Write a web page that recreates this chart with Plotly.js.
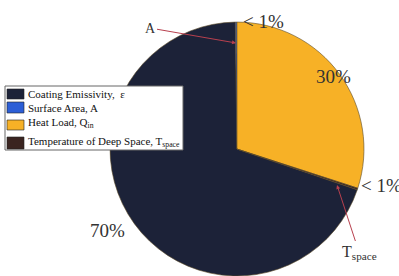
<!DOCTYPE html>
<html><head><meta charset="utf-8">
<script src="https://cdn.plot.ly/plotly-3.0.1.min.js"></script>
<style>html,body{margin:0;padding:0;background:#fff}#c{width:399px;height:276px}</style>
</head><body><div id="c"></div>
<script>
const labels = ["Coating Emissivity,  \u03b5", "Surface Area, A", "Heat Load, Q<sub>in</sub>", "Temperature of Deep Space, T<sub>space</sub>"];
const values = [69.6, 0.2, 30, 0.2];
const colors = ["#1c2238", "#2c5ed6", "#f7b126", "#3a2420"];
const sliceTexts = ["70%", "< 1%", "30%", "< 1%"];

const W = 399, H = 276;
const px = x => x / W, py = y => 1 - y / H;
const serif = "Liberation Serif";

const data = [{
  type: "pie", labels: labels, values: values, sort: false,
  direction: "clockwise", rotation: 108.7,
  marker: {colors: colors, line: {color: "#5a4a28", width: 0.6}},
  textinfo: "none", hoverinfo: "none", showlegend: false,
  domain: {x: [0.27, 0.918], y: [0, 0.92]}
}];

// manual legend (box + swatches + labels), built from labels/colors
const legTop = [89, 102, 120, 137], legH = [10, 11, 10, 12], legTextY = [94, 108, 123, 142];
const shapes = [{type: "rect", xref: "paper", yref: "paper", x0: px(5), x1: px(183), y0: py(86), y1: py(150),
  fillcolor: "#fff", line: {color: "#666", width: 1}, layer: "above"}];
const annotations = [];
labels.forEach((lab, i) => {
  shapes.push({type: "rect", xref: "paper", yref: "paper", x0: px(7), x1: px(24), y0: py(legTop[i]), y1: py(legTop[i] + legH[i]),
    fillcolor: colors[i], line: {color: "#222", width: 0.6}, layer: "above"});
  annotations.push({xref: "paper", yref: "paper", x: px(26), y: py(legTextY[i]), xanchor: "left", yanchor: "middle",
    text: lab, showarrow: false, font: {family: serif, size: 11, color: "#111"}});
});

const pctFont = {family: serif, size: 19, color: "#333"};
annotations.push(
  {xref: "paper", yref: "paper", x: px(263), y: py(9), text: sliceTexts[1], showarrow: false, font: pctFont},
  {xref: "paper", yref: "paper", x: px(353), y: py(64), text: sliceTexts[2], showarrow: false, font: pctFont},
  {xref: "paper", yref: "paper", x: px(359), y: py(198), xanchor: "left", text: sliceTexts[3], showarrow: false, font: pctFont},
  {xref: "paper", yref: "paper", x: px(88), y: py(243), text: sliceTexts[0], showarrow: false, font: pctFont},
  {xref: "paper", yref: "paper", x: px(236), y: py(43), ax: -86, ay: -15, text: "A", showarrow: true,
    arrowcolor: "#b8404e", arrowwidth: 1, arrowhead: 2, arrowsize: 0.8, font: {family: serif, size: 14, color: "#333"}},
  {xref: "paper", yref: "paper", x: px(337), y: py(185), ax: 22, ay: 67, text: "T<sub>space</sub>", showarrow: true,
    arrowcolor: "#b8404e", arrowwidth: 1, arrowhead: 2, arrowsize: 0.8, font: {family: serif, size: 16, color: "#333"}}
);

const layout = {
  width: W, height: H, margin: {l: 0, r: 0, t: 0, b: 0},
  paper_bgcolor: "#fff", showlegend: false, font: {family: serif},
  shapes: shapes, annotations: annotations
};
Plotly.newPlot("c", data, layout, {staticPlot: true});
</script></body></html>
